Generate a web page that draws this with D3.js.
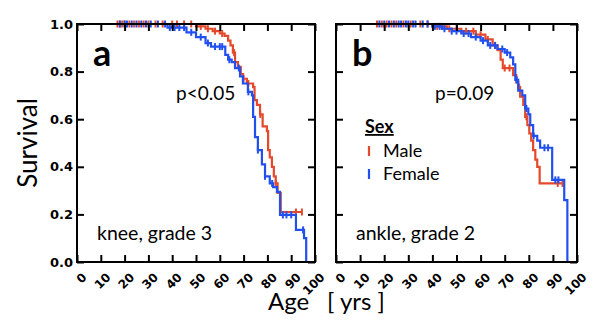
<!DOCTYPE html>
<html><head><meta charset="utf-8">
<script src="https://cdn.jsdelivr.net/npm/d3@7"></script>
<style>html,body{margin:0;padding:0;background:#fff}svg{display:block}</style>
</head><body>
<script>
// ---- data ----
const ageTicks = [0,10,20,30,40,50,60,70,80,90,100];
const survTicks = [0,0.2,0.4,0.6,0.8,1.0];
const seriesNames = ["Male","Female"];
const seriesColors = ["#e5482a","#2150ef"];

// Panel a: knee, grade 3
const aMaleT = [17,50,54,57,60,62,63.5,64.5,65.5,66.4,67.6,68.8,69.8,71.4,74,74.6,75.6,76.9,78,79.8,80.3,81,81.9,82.7,83.5,84.3,85.6,94.5];
const aMaleS = [1,0.99,0.98,0.97,0.96,0.95,0.93,0.91,0.88,0.84,0.82,0.79,0.77,0.75,0.735,0.68,0.66,0.62,0.57,0.55,0.47,0.44,0.40,0.36,0.33,0.29,0.21,0.21];
const aMaleC = [17,18,19,20,22,24,26,28,30,33,36,40,42,45,48,52,55,58,61,66,70,72,77,83.5,92,94.5];
const aFemT = [17,38,46,50,54,56.3,62.3,63.5,65,66.4,68.5,69.7,71.8,73.5,74,74.8,76,77.7,79,81,82.4,84,85.3,92,95.4,96.3];
const aFemS = [1,0.985,0.965,0.945,0.92,0.905,0.87,0.85,0.84,0.815,0.78,0.75,0.715,0.70,0.61,0.525,0.47,0.41,0.36,0.33,0.315,0.295,0.198,0.135,0.10,0];
const aFemC = [18,20,21,23,25,27,29,31,34,37,39,41,43,45,48,52,55,58,60,61,64,68,72,76,79,82,86.5,88,90,95];

// Panel b: ankle, grade 2
const bMaleT = [17,40,46,52,58,62,65,67,68.3,69.2,73.5,74.8,75.6,76.4,77.7,78.5,79.4,80.2,81,81.8,82.7,83.5,84.5,94];
const bMaleS = [1,0.99,0.98,0.97,0.955,0.935,0.91,0.89,0.85,0.815,0.785,0.755,0.735,0.695,0.66,0.61,0.575,0.54,0.51,0.47,0.43,0.40,0.33,0.33];
const bMaleC = [17,19,21,23,25,28,31,35,38,42,44,47,50,54,57,60,63,66,70,72,76,79,92,94];
const bFemT = [17,40,44,48,52,56,60,63,67,70,72.3,73.5,74.4,75.6,77.3,78.5,79.8,80.6,81.8,83.5,84.7,89.7,94.7,96];
const bFemS = [1,0.99,0.98,0.97,0.96,0.945,0.93,0.91,0.895,0.88,0.86,0.83,0.765,0.72,0.70,0.645,0.62,0.575,0.53,0.51,0.48,0.345,0.26,0];
const bFemC = [18,20,22,24,26,27,29,30,32,33,36,38,41,43,45,48,50,53,55,58,61,64,66,69,71,75,79,82,86.5,88,91,92.3];

const panels = [
  {letter:"a", pval:"p<0.05", label:"knee, grade 3", x0:77, x1:315, yLabels:true,
   series:[{t:aMaleT,s:aMaleS,c:aMaleC},{t:aFemT,s:aFemS,c:aFemC}]},
  {letter:"b", pval:"p=0.09", label:"ankle, grade 2", x0:336, x1:577, yLabels:false,
   series:[{t:bMaleT,s:bMaleS,c:bMaleC},{t:bFemT,s:bFemS,c:bFemC}], legend:true}
];

// ---- drawing ----
const W=600,H=331, yTop=24, yBot=262;
const svg = d3.select("body").append("svg").attr("width",W).attr("height",H);
const y = d3.scaleLinear().domain([0,1]).range([yBot,yTop]);
const txtFont = "Lato, 'Open Sans', sans-serif";
const tickFont = "'DejaVu Sans', Verdana, sans-serif";

function survAt(t, T, S){
  let v = 1;
  for (let i=0;i<T.length;i++){ if (T[i] <= t) v = S[i]; }
  return v;
}

panels.forEach(p => {
  const x = d3.scaleLinear().domain([0,100]).range([p.x0,p.x1]);
  const g = svg.append("g");

  // curves
  p.series.forEach((sr,i) => {
    const pts = sr.t.map((t,j)=>[t, sr.s[j]]);
    g.append("path")
      .attr("d", d3.line().x(d=>x(d[0])).y(d=>y(d[1])).curve(d3.curveStepAfter)(pts))
      .attr("fill","none").attr("stroke",seriesColors[i]).attr("stroke-width",2.2);
    g.selectAll(null).data(sr.c).enter().append("line")
      .attr("x1",d=>x(d)).attr("x2",d=>x(d))
      .attr("y1",d=>y(survAt(d,sr.t,sr.s))-3.5).attr("y2",d=>y(survAt(d,sr.t,sr.s))+3.5)
      .attr("stroke",seriesColors[i]).attr("stroke-width",2);
  });

  // axes (ticks inward)
  const axB = g.append("g").attr("transform",`translate(0,${yBot})`)
    .call(d3.axisBottom(x).tickValues(ageTicks).tickSize(-7).tickFormat(d3.format("d")));
  axB.selectAll("text")
    .attr("x",0).attr("y",0).attr("dy",0)
    .attr("text-anchor","end")
    .attr("transform","translate(10,16) rotate(-45)")
    .style("font-family",tickFont).style("font-size","12px").style("font-weight","bold").attr("fill","#000");
  g.append("g").attr("transform",`translate(0,${yTop})`)
    .call(d3.axisTop(x).tickValues(ageTicks).tickSize(-7).tickFormat(""));
  const axL = g.append("g").attr("transform",`translate(${p.x0},0)`)
    .call(d3.axisLeft(y).tickValues(survTicks).tickSize(-7).tickPadding(4)
      .tickFormat(p.yLabels ? d3.format(".1f") : ""));
  axL.selectAll("text").style("font-family",tickFont).style("font-size","13px").style("font-weight","bold").attr("fill","#000");
  g.append("g").attr("transform",`translate(${p.x1},0)`)
    .call(d3.axisRight(y).tickValues(survTicks).tickSize(-7).tickFormat(""));
  g.selectAll(".domain").remove();
  g.selectAll(".tick line").attr("stroke","#000").attr("stroke-width",2);
  g.append("rect").attr("x",p.x0).attr("y",yTop).attr("width",p.x1-p.x0).attr("height",yBot-yTop)
    .attr("fill","none").attr("stroke","#000").attr("stroke-width",2);

  // annotations
  g.append("text").attr("x",p.x0+16).attr("y",66).text(p.letter)
    .style("font-family",txtFont).style("font-weight","bold").style("font-size","36px");
  g.append("text").attr("x",p.x0+99).attr("y",100).text(p.pval)
    .style("font-family",txtFont).style("font-size","19px");
  g.append("text").attr("x",p.x0+20).attr("y",240).text(p.label)
    .style("font-family",txtFont).style("font-size","19.5px");

  if (p.legend){
    const lx = p.x0+29;
    g.append("text").attr("x",lx).attr("y",133).text("Sex")
      .style("font-family",txtFont).style("font-weight","bold").style("font-size","18px")
      .style("text-decoration","underline");
    seriesNames.forEach((n,i)=>{
      const yy = 151 + i*23;
      g.append("line").attr("x1",lx+4).attr("x2",lx+4).attr("y1",yy-5).attr("y2",yy+5)
        .attr("stroke",seriesColors[i]).attr("stroke-width",2.2);
      g.append("text").attr("x",lx+18).attr("y",yy+6).text(n)
        .style("font-family",txtFont).style("font-size","18px");
    });
  }
});

// axis titles
svg.append("text").attr("transform",`translate(37,143) rotate(-90)`).attr("text-anchor","middle")
  .text("Survival").style("font-family",txtFont).style("font-size","26px");
const xt = svg.append("text").attr("y",310).style("font-family",txtFont).style("font-size","24px");
xt.append("tspan").attr("x",268).text("Age");
xt.append("tspan").attr("x",327).text("[ yrs ]");
</script>
</body></html>
